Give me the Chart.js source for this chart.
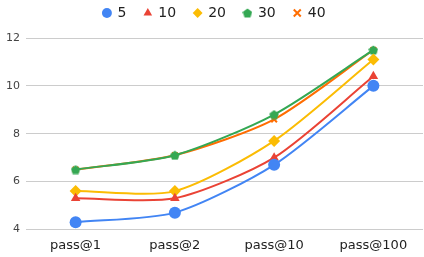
<!DOCTYPE html>
<html>
<head>
<meta charset="utf-8">
<script src="https://cdn.jsdelivr.net/npm/chart.js@4"></script>
<style>
html, body { margin: 0; padding: 0; background: #fff; overflow: hidden; }
#wrap { width: 429px; height: 257px; }
</style>
</head>
<body>
<div id="wrap"><canvas id="c"></canvas></div>
<script>
const labels = ['pass@1', 'pass@2', 'pass@10', 'pass@100'];
const seriesNames = ['5', '10', '20', '30', '40'];
const s5 = [4.3, 4.7, 6.7, 10.0];
const s10 = [5.3, 5.3, 7.0, 10.4];
const s20 = [5.6, 5.6, 7.7, 11.1];
const s30 = [6.5, 7.1, 8.8, 11.5];
const s40 = [6.5, 7.1, 8.6, 11.5];
const yTicks = [4, 6, 8, 10, 12];

// pentagon marker, chart.js has none
function pentagon(size, color) {
    const cv = document.createElement('canvas');
    cv.width = size; cv.height = size;
    const g = cv.getContext('2d');
    const r = size / 2;
    g.fillStyle = color;
    g.beginPath();
    for (let i = 0; i < 5; i++) {
        const a = -Math.PI / 2 + i * 2 * Math.PI / 5;
        const x = r + r * Math.cos(a), y = r + 0.05 * size + r * Math.sin(a);
        i ? g.lineTo(x, y) : g.moveTo(x, y);
    }
    g.closePath(); g.fill();
    return cv;
}

const colors = ['#4285F4', '#EA4335', '#FBBC04', '#34A853', '#FF6D01'];
const data = [s5, s10, s20, s30, s40];
const styles = ['circle', 'triangle', 'rectRot', pentagon(10, colors[3]), 'crossRot'];
const radii = [6, 5.5, 6, 5, 4];

// taller legend box so the plot starts at the right height
const legendHeight = {
    id: 'legendHeight',
    beforeInit(chart) {
        const fit = chart.legend.fit;
        chart.legend.fit = function () { fit.bind(chart.legend)(); this.height = 50; };
    }
};

new Chart(document.getElementById('c'), {
    type: 'line',
    data: {
        labels: labels,
        datasets: seriesNames.map((n, i) => ({
            label: n,
            data: data[i],
            borderColor: colors[i],
            backgroundColor: colors[i],
            pointStyle: styles[i],
            pointRadius: radii[i],
            pointBorderWidth: i == 4 ? 2 : 0,
            borderWidth: 2,
            tension: 0.25,
            fill: false
        }))
    },
    options: {
        responsive: true,
        maintainAspectRatio: false,
        animation: false,
        layout: { padding: { left: 0, right: 0, top: -12, bottom: 4 } },
        plugins: {
            legend: {
                position: 'top',
                labels: {
                    usePointStyle: true,
                    boxWidth: 7, boxHeight: 7,
                    padding: 18,
                    color: '#222',
                    font: { family: 'DejaVu Sans', size: 14 }
                }
            },
            tooltip: { enabled: false }
        },
        scales: {
            x: {
                offset: true,
                grid: { display: false },
                border: { display: false },
                ticks: { color: '#222', padding: 0, font: { family: 'DejaVu Sans', size: 13 }, maxRotation: 0 }
            },
            y: {
                min: yTicks[0], max: yTicks[yTicks.length - 1],
                afterBuildTicks: ax => { ax.ticks = yTicks.map(v => ({ value: v })); },
                grid: { color: '#cccccc', drawTicks: false },
                border: { display: false },
                ticks: { color: '#444', padding: 6, font: { family: 'DejaVu Sans', size: 11 } }
            }
        }
    },
    plugins: [legendHeight]
});
</script>
</body>
</html>
